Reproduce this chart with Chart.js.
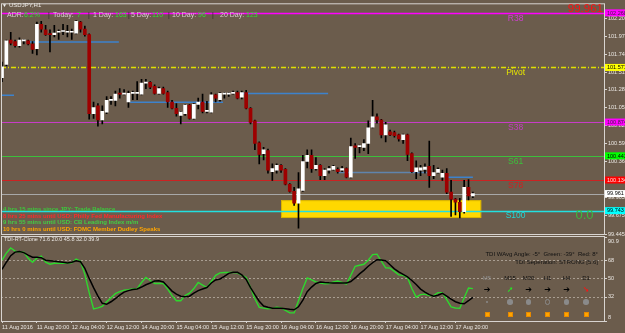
<!DOCTYPE html>
<html><head><meta charset="utf-8">
<script src="https://cdn.jsdelivr.net/npm/chart.js@4.4.0/dist/chart.umd.min.js"></script>
<style>
html,body{margin:0;padding:0;background:#6b5c4c;width:625px;height:333px;overflow:hidden;font-family:"Liberation Sans",Arial,sans-serif;}
#wrap{position:relative;width:625px;height:333px;}
canvas{position:absolute;left:0;top:0;}
.t{position:absolute;white-space:pre;line-height:1;}
</style></head><body>
<div id="wrap">
<canvas id="c1" width="625" height="333"></canvas>
<canvas id="c2" width="625" height="333"></canvas>
</div>
<script>
// ---------- DATA ----------
const candleOpen = [101.44,101.61,101.92,101.90,101.85,101.91,101.91,101.87,101.81,102.12,
102.05,102.00,101.99,102.02,102.03,102.02,102.02,102.01,102.15,102.06,
101.99,100.98,101.08,100.90,101.00,101.15,101.15,101.24,101.23,101.13,
101.24,101.24,101.23,101.37,101.38,101.33,101.24,101.30,101.25,101.13,
101.05,100.96,100.98,101.09,100.92,101.10,101.13,101.01,101.00,101.22,
101.16,101.23,101.23,101.24,101.25,101.19,101.25,101.05,100.89,100.61,
100.47,100.51,100.24,100.26,100.32,100.27,100.08,99.99,99.84,100.00,
100.37,100.45,100.28,100.32,100.19,100.26,100.27,100.27,100.26,100.28,
100.17,100.57,100.56,100.55,100.60,100.81,100.94,100.90,100.71,100.75,
100.74,100.71,100.65,100.71,100.47,100.24,100.26,100.27,100.31,100.19,
100.23,100.17,100.22,99.98,99.89,99.85,99.73,100.04,99.93];
const candleHigh = [101.64,101.92,102.02,101.92,101.95,101.93,101.92,101.90,102.15,102.16,
102.11,102.05,102.11,102.05,102.12,102.11,102.06,102.17,102.16,102.10,
102.00,101.13,101.11,101.08,101.20,101.20,101.27,101.30,101.29,101.27,
101.27,101.39,101.42,101.42,101.39,101.35,101.32,101.32,101.27,101.15,
101.11,101.01,101.10,101.10,101.11,101.18,101.23,101.14,101.25,101.23,
101.25,101.25,101.25,101.27,101.27,101.27,101.28,101.06,100.90,100.62,
100.55,100.53,100.34,100.34,100.33,100.28,100.09,100.04,100.23,100.45,
100.52,100.52,100.42,100.33,100.28,100.31,100.32,100.29,100.31,100.29,
100.67,100.60,100.58,100.65,100.89,101.15,100.98,100.91,100.87,100.77,
100.76,100.72,100.72,100.72,100.48,100.38,100.32,100.34,100.63,100.32,
100.29,100.26,100.28,100.13,99.90,99.90,100.13,100.14,99.98];
const candleLow = [101.39,101.59,101.86,101.83,101.83,101.87,101.86,101.75,101.73,102.02,
101.98,101.77,101.96,101.93,101.99,101.96,101.93,102.00,102.02,101.97,
100.91,100.92,100.82,100.85,100.98,101.10,101.08,101.18,101.22,101.06,
101.16,101.16,101.22,101.30,101.30,101.23,101.23,101.23,101.06,101.04,
100.95,100.85,100.96,100.91,100.91,101.04,100.99,100.99,100.99,101.13,
101.14,101.18,101.20,101.23,101.17,101.17,101.04,100.85,100.52,100.34,
100.39,100.22,100.13,100.22,100.23,100.07,99.98,99.81,99.52,99.99,
100.29,100.23,100.26,100.14,100.14,100.22,100.26,100.22,100.24,100.16,
100.16,100.41,100.48,100.51,100.47,100.80,100.86,100.67,100.62,100.70,
100.68,100.63,100.60,100.38,100.23,100.15,100.19,100.22,100.04,100.15,
100.22,100.13,99.96,99.67,99.69,99.65,99.71,99.88,99.91];
const candleClose = [101.58,101.91,101.88,101.85,101.92,101.91,101.87,101.80,102.12,102.06,
101.99,101.99,102.01,102.025,102.03,102.02,102.02,102.16,102.06,101.99,
100.98,101.06,100.90,101.01,101.15,101.16,101.23,101.23,101.24,101.24,
101.24,101.24,101.37,101.37,101.32,101.24,101.30,101.24,101.13,101.05,
100.98,101.00,101.09,100.92,101.10,101.13,101.01,101.01,101.22,101.18,
101.24,101.23,101.23,101.24,101.18,101.25,101.05,100.87,100.60,100.46,
100.52,100.26,100.28,100.32,100.26,100.08,99.99,99.84,100.02,100.37,
100.45,100.28,100.32,100.19,100.26,100.28,100.31,100.24,100.28,100.17,
100.56,100.55,100.56,100.60,100.80,100.94,100.90,100.71,100.84,100.71,
100.70,100.66,100.71,100.46,100.24,100.29,100.29,100.30,100.19,100.23,
100.27,100.22,99.98,99.89,99.85,99.73,100.04,99.93,99.96];

const tdiGreen = [68,75,80,77,76,76,70,66,70,72,
66,64,65,65,65,65,65.5,69,67,54,
36,20,21,22.5,27,31,35,37,38.5,39,
39.6,40,46,51,48,45,45,45,39.5,33,
28,28,33,35.5,40,46,43.5,41,47,53,
55.5,55.8,56,55.8,55.5,53,51,41,30,21.5,
20.7,20,20.5,21.5,21,18.5,16,16,28,40,
50.5,48.5,46.5,45.5,44.8,45,46.5,47.5,46,44.5,
53,62,63,64,68,73.5,74,67,60.5,60.2,
57,53.5,53,51,40,31.5,34,34.5,33,33,
36,36,29,22,20.8,20.5,31,40.5,40];
const tdiBlack = [59,66,72.5,76,76.5,75.5,73,71,71,70.5,
68,67.5,67,66.5,66,65.3,66,67.5,66.5,60,
50,41,32.5,25.5,24.5,27,30,33.5,36.5,38,
39,39.6,41.5,43.8,45.5,47.5,47.8,46.5,42,37.5,
34.5,32.5,32,32.5,35.5,38,39.5,41,45.5,48.5,
49.5,52,55,56,56,53.5,49,41,34,27.5,
22.8,21.5,20.7,20.6,20.6,20.2,19.6,19.1,22,28.5,
37,41.5,45,46.5,46,45.7,45.5,45.5,45.5,45.5,
47,50.5,54.5,58,62,65.5,68.5,68.3,67.5,63.5,
59.5,56.5,54,51.5,48,44,39.5,36.5,34,32.5,
33.5,35.3,32.5,29.5,27,25.5,25,28,31.3];

const timeLabels = ["11 Aug 2016","11 Aug 20:00","12 Aug 04:00","12 Aug 12:00","14 Aug 20:00","15 Aug 04:00","15 Aug 12:00","15 Aug 20:00","16 Aug 04:00","16 Aug 12:00","16 Aug 20:00","17 Aug 04:00","17 Aug 12:00","17 Aug 20:00"];
const timeLabelIdx = [0,8,16,24,32,40,48,56,64,72,80,88,96,104];

const priceTicks = [102.200,101.970,101.740,101.510,101.285,101.055,100.825,100.595,100.365,100.135,99.905,99.675,99.445];
const levelNames = ["R38","Pivot","S38","S61","S78","S100"];
const levelValues = [102.268,101.571,100.874,100.443,100.134,99.743];
const currentPrice = 99.961;

const segStart = [6.4,-0.5,29.4,54.6,77.1,102.3];
const segEnd   = [26.8,2.75,50.7,74.8,97.5,108];
const segPrice = [101.897,101.215,101.127,101.240,100.230,100.170];

const zoneFrom = 64.0, zoneTo = 109.9, zoneHigh = 99.877, zoneLow = 99.649;

const tdiTicks = [90.9,68,50,32,8];
const tdiTickText = ["90.9","68","50","32","8"];
const tdiLevels = [68,50,32];

const tfNames = ["M5","M15","M30","H1","H4","D1"];
const tfArrows = ["➔","➚","➔","➔","➔","➘"];

// ---------- STYLE ----------
const xMin = -0.23, xMax = 138.3;
const levelColors = ['#ff00ff','#e0e000','#c83cc8','#3cbf3c','#cc2222','#22e0e0'];
const levelWidths = [1.6,1.4,1,1,1,1.6];
const levelTextColors = ['#d040d0','#e6e600','#c040c0','#3cc03c','#d02020','#20d8d8'];
const boxBg = ['#ff00ff','#ffff00','#ff00ff','#00ff00','#ff0000','#00ffff'];
const boxFg = ['#402040','#000','#402040','#000','#ffe0e0','#000'];
const FN = '"Liberation Sans Narrow","Liberation Sans",Arial,sans-serif';

const candleIdx = candleOpen.map((_,i)=>i);
const bodyColors = candleIdx.map(i => candleClose[i] >= candleOpen[i] ? '#ffffff' : '#9e0000');

const mainDeco = {
  id:'mainDeco',
  beforeDatasetsDraw(chart){
    const {ctx, chartArea:a, scales:{x,y}} = chart;
    ctx.save();
    const zx0=x.getPixelForValue(zoneFrom), zx1=Math.min(x.getPixelForValue(zoneTo), a.right);
    const zy0=y.getPixelForValue(zoneHigh), zy1=y.getPixelForValue(zoneLow);
    ctx.fillStyle='#ffd800'; ctx.fillRect(zx0,zy0,zx1-zx0,zy1-zy0);
    ctx.strokeStyle='#d9b200'; ctx.lineWidth=1; ctx.strokeRect(zx0+0.5,zy0+0.5,zx1-zx0-1,zy1-zy0-1);
    let cy=Math.round(y.getPixelForValue(currentPrice))+0.5;
    ctx.strokeStyle='#a8a8a8'; ctx.lineWidth=1;
    ctx.beginPath(); ctx.moveTo(a.left,cy); ctx.lineTo(a.right,cy); ctx.stroke();
    levelValues.forEach((v,i)=>{
      const py=Math.round(y.getPixelForValue(v))+0.5;
      ctx.strokeStyle=levelColors[i]; ctx.lineWidth=levelWidths[i];
      ctx.setLineDash(i===1?[5,2,1,2]:[]);
      ctx.beginPath(); ctx.moveTo(a.left,py); ctx.lineTo(a.right,py); ctx.stroke();
    });
    ctx.setLineDash([]);
    ctx.restore();
  },
  afterDatasetsDraw(chart){
    const {ctx, chartArea:a, scales:{x,y}} = chart;
    ctx.save();
    ctx.textAlign='center'; ctx.textBaseline='middle';
    ctx.font='8.5px "Liberation Sans",Arial,sans-serif';
    const lx=x.getPixelForValue(117.8);
    levelValues.forEach((v,i)=>{
      ctx.fillStyle=levelTextColors[i];
      ctx.fillText(levelNames[i], lx, y.getPixelForValue(v)+5.5);
    });
    ctx.font='13px "Liberation Sans",Arial,sans-serif';
    ctx.fillStyle='#3cb83c';
    ctx.fillText('0.0', x.getPixelForValue(133.6), y.getPixelForValue(levelValues[5])+5);
    ctx.restore();
  },
  afterDraw(chart){
    const {ctx, chartArea:a, scales:{y}} = chart;
    ctx.save();
    ctx.strokeStyle='#d8d4d0'; ctx.lineWidth=1;
    ctx.strokeRect(a.left+0.5, a.top-0.5, a.right-a.left-1, a.bottom-a.top+1);
    ctx.font='5.5px '+FN; ctx.textBaseline='middle'; ctx.textAlign='left';
    const boxes = levelValues.map((v,i)=>({v, bg:boxBg[i], fg:boxFg[i]}));
    boxes.splice(5,0,{v:currentPrice,bg:'#ffffff',fg:'#000'});
    boxes.forEach(b=>{
      const py=y.getPixelForValue(b.v);
      ctx.fillStyle=b.bg; ctx.fillRect(a.right, py-3.5, 20, 7);
      ctx.fillStyle=b.fg; ctx.fillText(b.v.toFixed(3), a.right+2, py+0.3);
    });
    ctx.restore();
  }
};

new Chart(document.getElementById('c1'), {
  type:'bar',
  data:{datasets:[
    {type:'bar', data:candleIdx.map(i=>({x:i,y:[candleLow[i],candleHigh[i]]})), backgroundColor:'#000', barThickness:1, grouped:false, order:2},
    {type:'bar', data:candleIdx.map(i=>({x:i,y:[candleOpen[i],candleClose[i]]})), backgroundColor:bodyColors, barThickness:3, minBarLength:1, grouped:false, order:1},
    ...segPrice.map((p,k)=>({type:'line', data:[{x:segStart[k],y:p},{x:segEnd[k],y:p}], borderColor: k===4?'#5f84ad':'#3d82cc', borderWidth:1.5, pointRadius:0, order:5}))
  ]},
  options:{
    responsive:false, animation:false, devicePixelRatio:1,
    layout:{padding:{left:1,top:2,right:0,bottom:99}},
    plugins:{legend:{display:false},tooltip:{enabled:false}},
    scales:{
      x:{type:'linear',min:xMin,max:xMax,display:false,offset:false},
      y:{position:'right',min:99.445,max:102.377,
         afterBuildTicks:s=>{s.ticks=priceTicks.map(v=>({value:v}));},
         afterFit:s=>{s.width=20;},
         ticks:{autoSkip:false,callback:v=>Number(v).toFixed(3),font:{size:5.5,family:FN},color:'#ece8e4',padding:1},
         grid:{drawOnChartArea:false,tickLength:2,color:'#d8d4d0'},
         border:{display:false}}
    }
  },
  plugins:[mainDeco]
});

const subDeco = {
  id:'subDeco',
  beforeDatasetsDraw(chart){
    const {ctx, chartArea:a, scales:{y}} = chart;
    ctx.save();
    ctx.strokeStyle='rgba(190,180,170,0.75)'; ctx.lineWidth=1; ctx.setLineDash([2,2]);
    tdiLevels.forEach(v=>{
      const py=Math.round(y.getPixelForValue(v))+0.5;
      ctx.beginPath(); ctx.moveTo(a.left,py); ctx.lineTo(a.right,py); ctx.stroke();
    });
    ctx.restore();
  },
  afterDraw(chart){
    const {ctx, chartArea:a, scales:{y}} = chart;
    ctx.save();
    ctx.strokeStyle='#d8d4d0'; ctx.lineWidth=1;
    ctx.strokeRect(a.left+0.5, a.top-0.5, a.right-a.left-1, a.bottom-a.top+1);
    ctx.font='5.5px '+FN; ctx.fillStyle='#ece8e4'; ctx.textBaseline='middle'; ctx.textAlign='left';
    tdiTicks.forEach((v,i)=>{
      let py=y.getPixelForValue(v);
      ctx.beginPath(); ctx.moveTo(a.right,Math.round(py)+0.5); ctx.lineTo(a.right+2,Math.round(py)+0.5); ctx.stroke();
      py=Math.max(a.top+4, Math.min(a.bottom-4, py));
      ctx.fillText(tdiTickText[i], a.right+3, py);
    });
    ctx.restore();
  }
};

new Chart(document.getElementById('c2'), {
  type:'line',
  data:{datasets:[
    {data:candleIdx.map(i=>({x:i,y:tdiBlack[i]})), borderColor:'#000000', borderWidth:1.5, pointRadius:0, order:0},
    {data:candleIdx.map(i=>({x:i,y:tdiGreen[i]})), borderColor:'#2ed82e', borderWidth:1.4, pointRadius:0, order:1}
  ]},
  options:{
    responsive:false, animation:false, devicePixelRatio:1,
    layout:{padding:{left:1,top:237,right:20,bottom:0}},
    plugins:{legend:{display:false},tooltip:{enabled:false}},
    scales:{
      x:{type:'linear',min:xMin,max:xMax,offset:false,
         afterBuildTicks:s=>{s.ticks=timeLabelIdx.map(v=>({value:v}));},
         afterFit:s=>{s.height=12;s.paddingLeft=0;s.paddingRight=0;},
         ticks:{autoSkip:false,maxRotation:0,align:'start',
           callback:v=>{const k=timeLabelIdx.indexOf(v);return k>=0?timeLabels[k]:'';},
           font:{size:5.5,family:FN},color:'#ece8e4',padding:1},
         grid:{drawOnChartArea:false,tickLength:2,color:'#d8d4d0'},
         border:{display:false}},
      y:{display:false,min:8,max:90.9}
    }
  },
  plugins:[subDeco]
});

// ---------- TEXT OVERLAYS ----------
const wrap=document.getElementById('wrap');
function T(txt,x,y,size,color,align,extra){
  const d=document.createElement('div'); d.className='t'; d.textContent=txt;
  d.style.fontSize=size+'px'; d.style.color=color; d.style.top=(y-size*0.55)+'px';
  if(align==='right'){d.style.right=(625-x)+'px';}
  else if(align==='center'){d.style.left=x+'px';d.style.transform='translateX(-50%)';}
  else d.style.left=x+'px';
  if(extra) Object.assign(d.style,extra);
  wrap.appendChild(d); return d;
}
const G='#33dd33', L='#d4d0cc', S='#2a2a2a';
T('▼',4.5,5.5,5,'#f0f0f0','center');
T('USDJPY,H1',9,5.5,6,'#ece8e4');
[['ADR:',7,L],['6.2%',24,G],['|',48,S],['Today:',53,L],['7',77,G],['|',88,S],['1 Day:',93,L],['163',115,G],['|',128,S],
 ['5 Day:',131,L],['110',152,G],['|',168,S],['10 Day:',172,L],['96',198,G],['|',212,S],['20 Day:',220,L],['123',246,G]]
 .forEach(s=>T(s[0],s[1],14.5,7,s[2]));
T('99.961',603,9.5,11.5,'#ff1010','right');
const NF={fontFamily:FN,fontWeight:'bold'};
T('4 hrs 15 mins since JPY: Trade Balance',3,209.5,6,'#3cc83c',null,NF);
T('8 hrs 25 mins until USD: Philly Fed Manufacturing Index',3,216,6,'#ff2a2a',null,NF);
T('9 hrs 55 mins until USD: CB Leading Index m/m',3,222.5,6,'#44cc44',null,NF);
T('10 hrs 0 mins until USD: FOMC Member Dudley Speaks',3,229,6,'#ffa500',null,NF);
T('TDI-RT-Clone 71.6 20.0 45.8 32.0 39.9',4,240.5,5.5,'#ece8e4',null,{fontFamily:FN});
T('TDI WAvg Angle: -5°  Green: -39°  Red: 8°',598,254,6,'#111','right',{fontFamily:FN});
T('TDI Seperation: STRONG [5.6]',598,262.5,6,'#111','right',{fontFamily:FN});
const tfX=[487,510,528.5,547.5,566.5,586];
const arrowCol=['#000','#22ee22','#000','#000','#000','#ff1010'];
tfNames.forEach((n,i)=>{
  T(n,tfX[i],278.5,6,i===0?'#8c8c8c':'#111','center',{fontFamily:FN});
  T(tfArrows[i],tfX[i],290,8,arrowCol[i],'center',{fontFamily:'"DejaVu Sans",sans-serif',fontWeight:'bold'});
  const c=document.createElement('div');
  const r=i===0?1:2.7;
  c.style.cssText='position:absolute;border-radius:50%;box-sizing:border-box;';
  c.style.left=(tfX[i]-r)+'px'; c.style.top=(302-r)+'px'; c.style.width=(2*r)+'px'; c.style.height=(2*r)+'px';
  if(i===3){c.style.border='1.3px solid #8a8a8a';} else c.style.background='#8a8a8a';
  wrap.appendChild(c);
  const q=document.createElement('div');
  q.style.cssText='position:absolute;width:5px;height:5px;background:#ffa500;box-sizing:border-box;border:1px solid #e88a00;';
  q.style.left=(tfX[i]-2.5)+'px'; q.style.top='312px';
  wrap.appendChild(q);
});
</script>
</body></html>
